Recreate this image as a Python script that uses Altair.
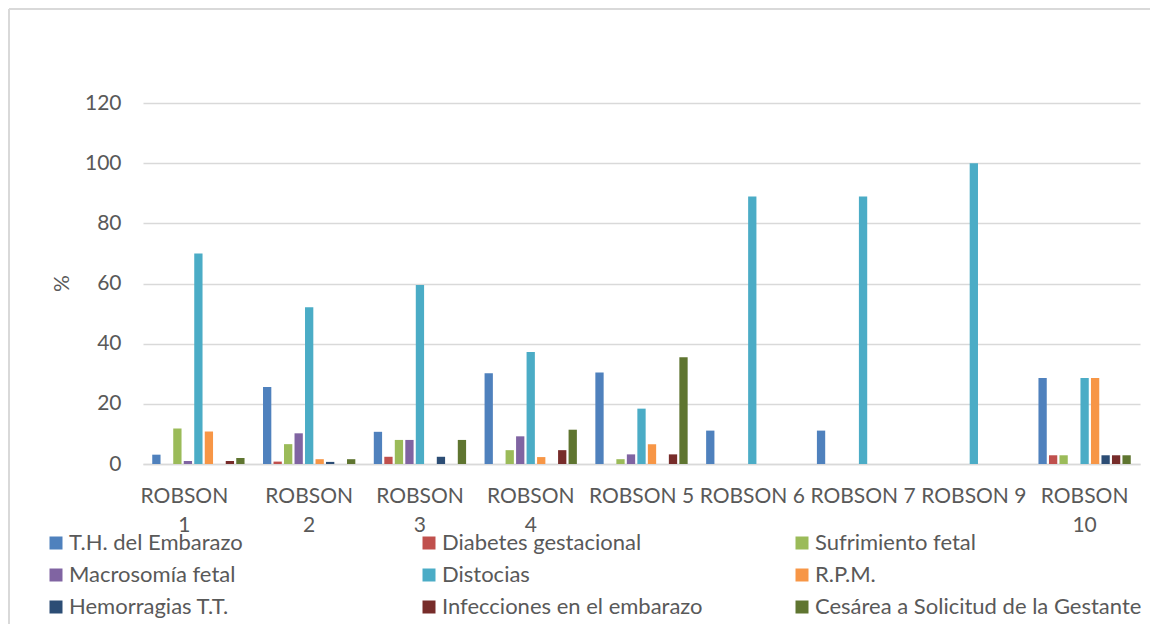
import altair as alt
import pandas as pd

categories = ["ROBSON 1", "ROBSON 2", "ROBSON 3", "ROBSON 4", "ROBSON 5",
              "ROBSON 6", "ROBSON 7", "ROBSON 9", "ROBSON 10"]
wrapped_labels = ["ROBSON 1", "ROBSON 2", "ROBSON 3", "ROBSON 4", "ROBSON 10"]

series = ["T.H. del Embarazo", "Diabetes gestacional", "Sufrimiento fetal",
          "Macrosomía fetal", "Distocias", "R.P.M.", "Hemorragias T.T.",
          "Infecciones en el embarazo", "Cesárea a Solicitud de la Gestante"]
colors = ["#4F81BD", "#C0504D", "#9BBB59", "#8064A2", "#4BACC6",
          "#F79646", "#2C4D75", "#772C2A", "#5F7530"]

th_embarazo = [3.1, 25.6, 10.7, 30.2, 30.4, 11.1, 11.1, 0, 28.6]
diabetes = [0, 0.8, 2.4, 0, 0, 0, 0, 0, 2.9]
sufrimiento = [11.8, 6.6, 8.0, 4.6, 1.6, 0, 0, 0, 2.9]
macrosomia = [1.0, 10.2, 8.0, 9.2, 3.2, 0, 0, 0, 0]
distocias = [70.0, 52.1, 59.5, 37.2, 18.4, 88.9, 88.9, 100, 28.6]
rpm = [10.8, 1.6, 0, 2.3, 6.6, 0, 0, 0, 28.6]
hemorragias = [0, 0.7, 2.4, 0, 0, 0, 0, 0, 2.9]
infecciones = [1.0, 0, 0, 4.6, 3.2, 0, 0, 0, 2.9]
cesarea = [2.0, 1.6, 8.0, 11.4, 35.5, 0, 0, 0, 2.9]

all_values = [th_embarazo, diabetes, sufrimiento, macrosomia, distocias,
              rpm, hemorragias, infecciones, cesarea]

rows = []
for s, vals in zip(series, all_values):
    for c, v in zip(categories, vals):
        rows.append({"categoria": c, "serie": s, "valor": v})
df = pd.DataFrame(rows)

font = "Lato"
text_color = "#595959"
grid_color = "#D9D9D9"
fs = 21

wrap_list = "[" + ",".join("'" + w + "'" for w in wrapped_labels) + "]"
label_expr = f"indexof({wrap_list}, datum.value) >= 0 ? split(datum.value, ' ') : datum.value"

bars = alt.Chart(df).mark_bar().encode(
    x=alt.X("categoria:N", sort=categories,
            scale=alt.Scale(paddingInner=0, paddingOuter=0),
            axis=alt.Axis(title=None, labelExpr=label_expr, labelAngle=0,
                          ticks=False, tickSize=0, labelPadding=21,
                          labelFontSize=fs, labelLineHeight=29, labelFont=font,
                          labelColor=text_color, domainColor=grid_color,
                          domainWidth=1.5, grid=False, labelOverlap=False,
                          labelLimit=300,
                          labelOffset={"condition": {"test": "datum.value === 'ROBSON 1'", "value": -14}, "value": 0})),
    xOffset=alt.XOffset("serie:N", sort=series,
                        scale=alt.Scale(paddingInner=0.21, paddingOuter=0.88)),
    y=alt.Y("valor:Q", scale=alt.Scale(domain=[0, 120], nice=False),
            axis=alt.Axis(values=[0, 20, 40, 60, 80, 100, 120], title="%",
                          titleX=-81, titleY=180, titleFont=font,
                          titleFontSize=fs, titleFontWeight="normal",
                          titleColor=text_color, titleAlign="center",
                          titleBaseline="middle",
                          domain=False, ticks=False, tickSize=0,
                          labelPadding=22, labelFontSize=fs, labelFont=font,
                          labelColor=text_color, gridColor=grid_color,
                          gridWidth=1.3)),
    color=alt.Color("serie:N", sort=series,
                    scale=alt.Scale(domain=series, range=colors),
                    legend=alt.Legend(title=None, orient="none", legendX=-98,
                                      legendY=429, columns=3,
                                      direction="horizontal",
                                      symbolType="square", symbolSize=169,
                                      symbolStrokeWidth=0, labelFontSize=22,
                                      labelFont=font, labelColor=text_color,
                                      labelLimit=600, columnPadding=22,
                                      rowPadding=10, labelOffset=2,
                                      gridAlign="all", padding=0)),
)

frame_data = alt.Data(values=[{"k": 1}])
frame_top = alt.Chart(frame_data).mark_rule(color=grid_color, strokeWidth=2).encode(
    x=alt.value(-134), x2=alt.value(1200), y=alt.value(-94))
frame_left = alt.Chart(frame_data).mark_rule(color=grid_color, strokeWidth=2).encode(
    x=alt.value(-134), y=alt.value(-94), y2=alt.value(700))

chart = alt.layer(frame_top, frame_left, bars).properties(
    width=997, height=361,
    autosize=alt.AutoSizeParams(type="none"),
    padding={"left": 135, "top": 95, "right": 10, "bottom": 160},
).configure_view(stroke=None)

chart.save("out.html", embed_options={"renderer": "svg", "actions": False})
